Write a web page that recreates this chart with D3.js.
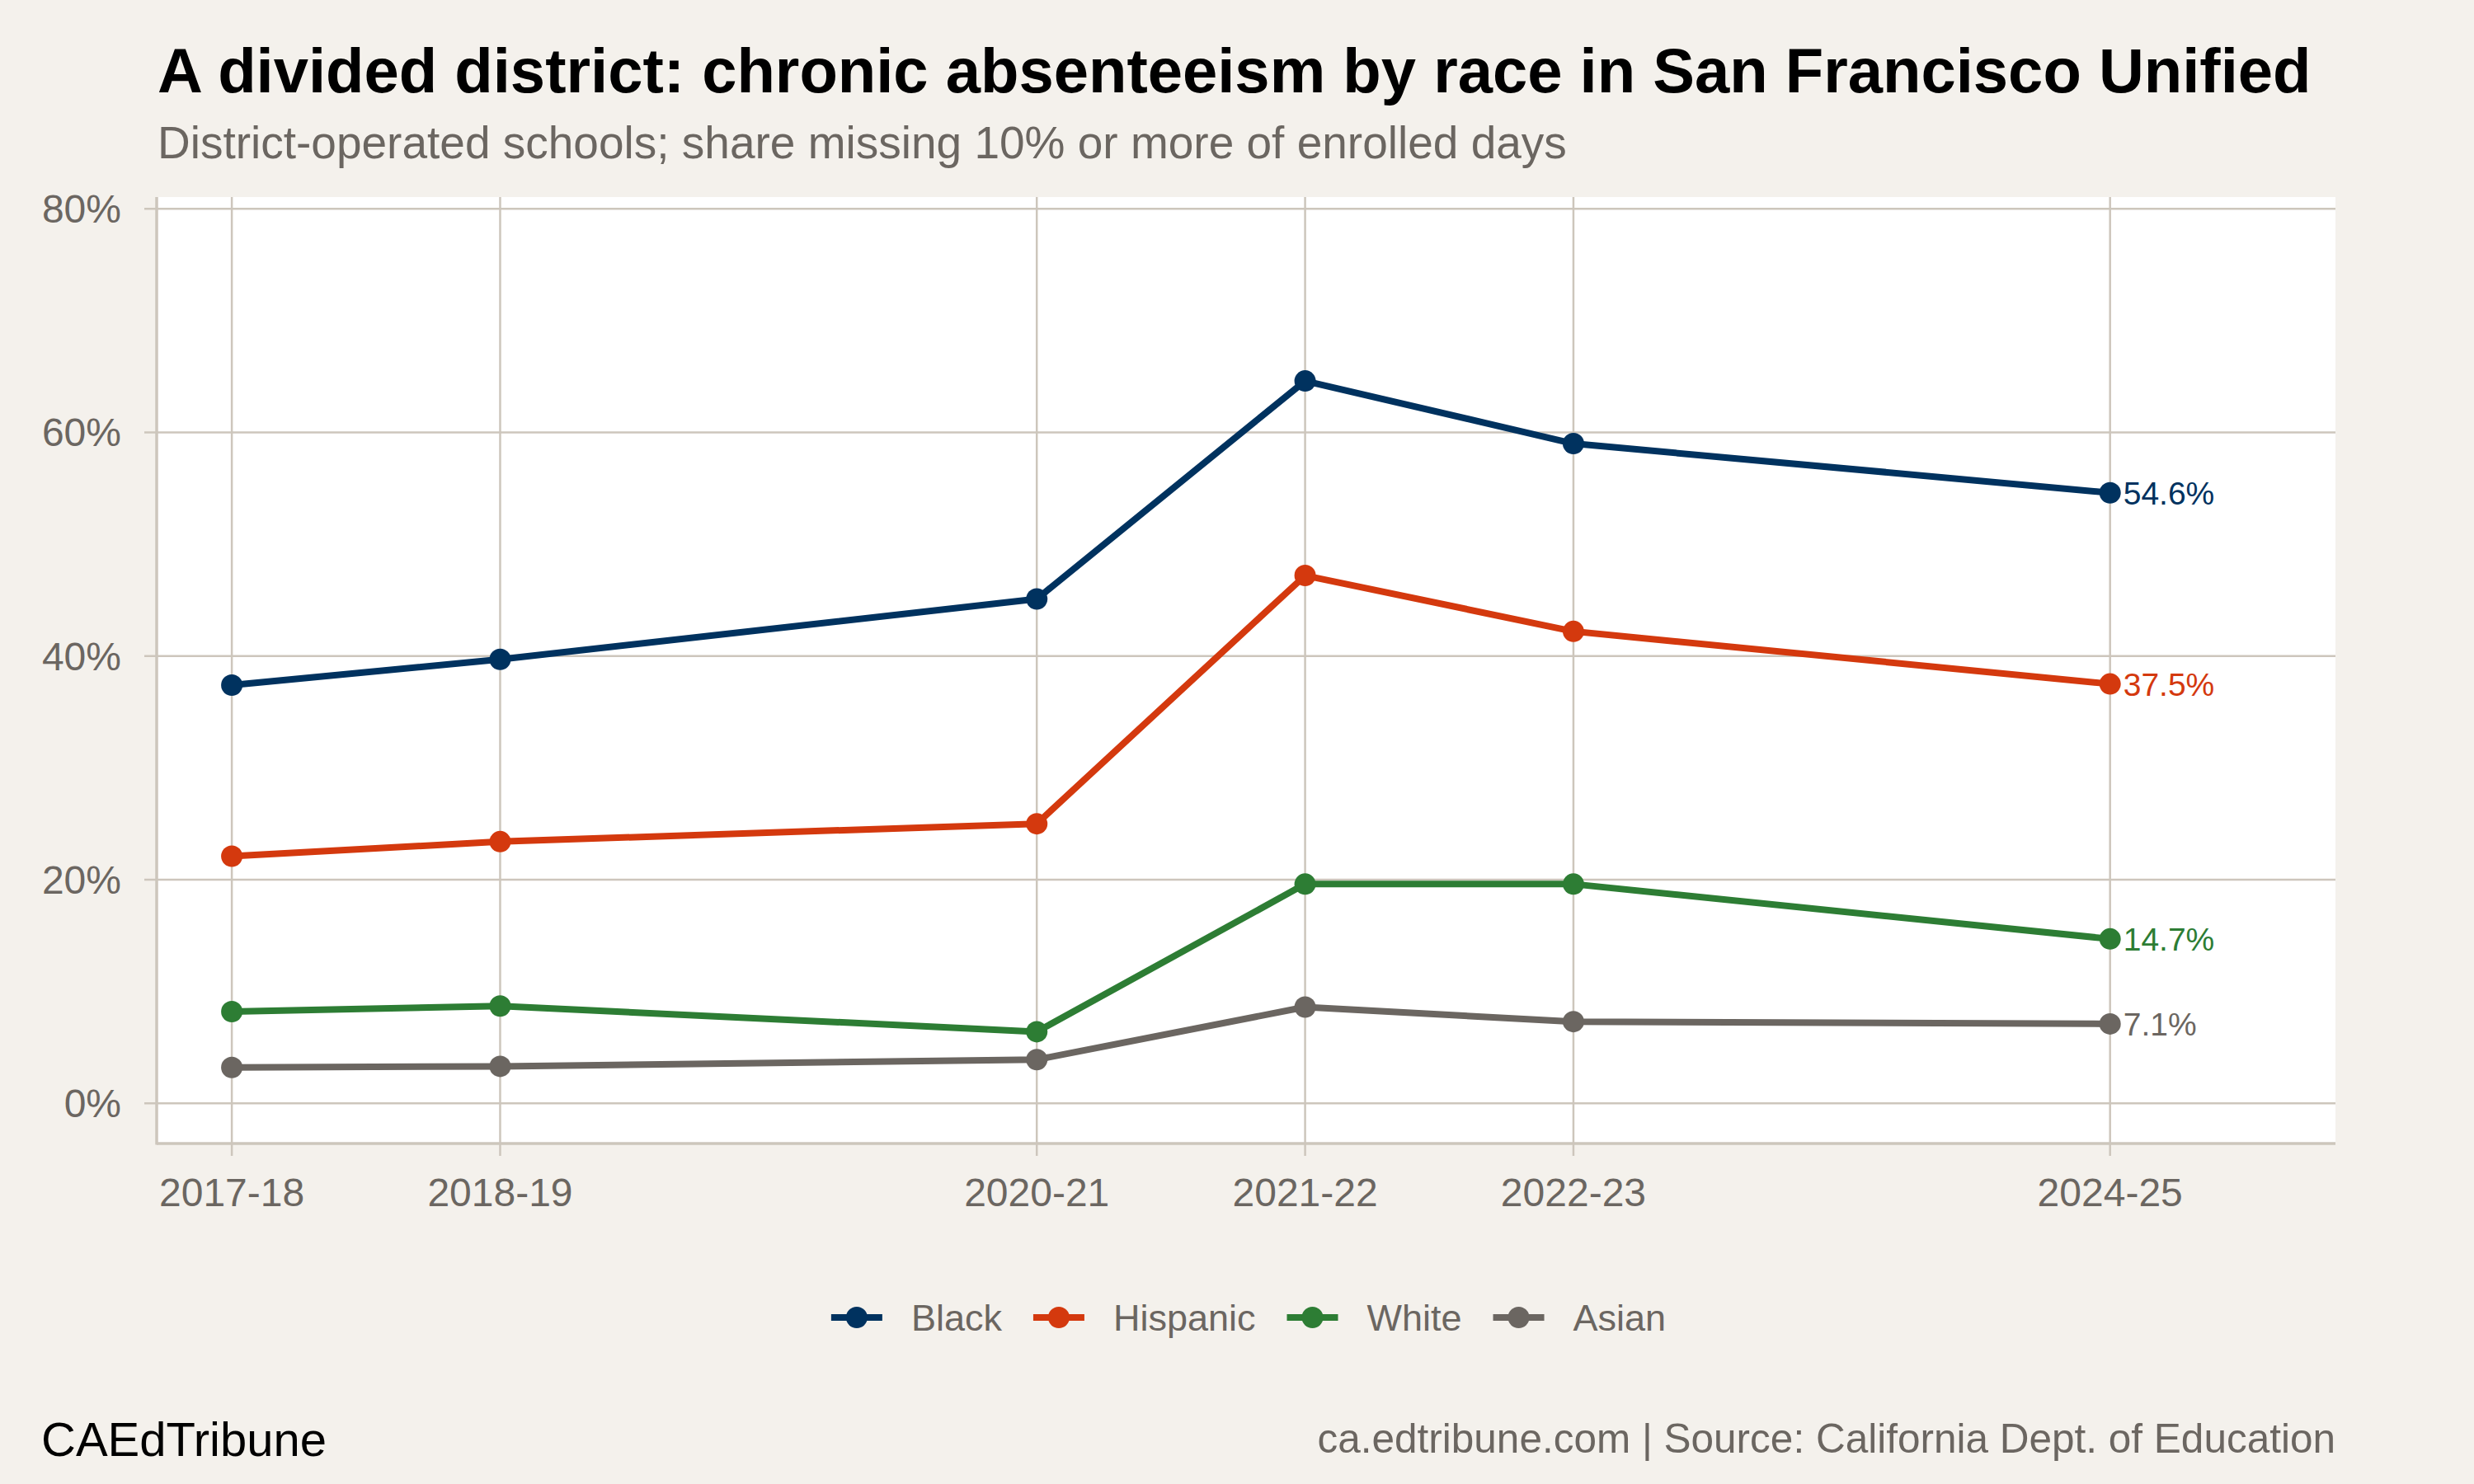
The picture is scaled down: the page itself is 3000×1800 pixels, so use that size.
<!DOCTYPE html>
<html>
<head>
<meta charset="utf-8">
<script src="https://cdn.jsdelivr.net/npm/d3@7"></script>
<style>
  body { margin: 0; background: #f4f1ec; }
  text { font-family: "Liberation Sans", Arial, Helvetica, sans-serif; }
</style>
</head>
<body>
<svg id="chart"></svg>
<script>
var w = 3000;
var h = 1800;

// school years (start year) and their labels
var years = [2017, 2018, 2020, 2021, 2022, 2024];
var yearLabels = ["2017-18", "2018-19", "2020-21", "2021-22", "2022-23", "2024-25"];

var groups = ["Black", "Hispanic", "White", "Asian"];
var black = [37.4, 39.7, 45.1, 64.6, 59.0, 54.6];
var hispanic = [22.1, 23.4, 25.0, 47.2, 42.2, 37.5];
var white = [8.2, 8.7, 6.4, 19.6, 19.6, 14.7];
var asian = [3.2, 3.3, 3.9, 8.6, 7.3, 7.1];
var yTicks = [0, 20, 40, 60, 80];

var colors = ["#00325f", "#d4390e", "#2d7d34", "#6b6661"];
var seriesValues = [black, hispanic, white, asian];

var bg = "#f4f1ec";
var gridCol = "#cdc6bc";
var grayText = "#6b6661";

var panel = { left: 190, right: 2832, top: 239, bottom: 1387 };

var xScale = d3.scaleLinear()
    .domain([2016.72, 2024.84])
    .range([panel.left, panel.right]);

var yScale = d3.scaleLinear()
    .domain([-3.6, 81.05])
    .range([panel.bottom, panel.top]);

var svg = d3.select("#chart")
    .attr("width", w)
    .attr("height", h);

svg.append("rect")
    .attr("width", w)
    .attr("height", h)
    .attr("fill", bg);

// title + subtitle
svg.append("text")
    .attr("x", 191)
    .attr("y", 112)
    .attr("font-size", "76px")
    .attr("font-weight", "bold")
    .attr("fill", "#000")
    .text("A divided district: chronic absenteeism by race in San Francisco Unified");

svg.append("text")
    .attr("x", 191)
    .attr("y", 192)
    .attr("font-size", "55px")
    .attr("fill", grayText)
    .text("District-operated schools; share missing 10% or more of enrolled days");

// panel
svg.append("rect")
    .attr("x", panel.left)
    .attr("y", panel.top)
    .attr("width", panel.right - panel.left)
    .attr("height", panel.bottom - panel.top)
    .attr("fill", "#fff");

// gridlines
svg.selectAll(".hgrid")
    .data(yTicks)
    .enter()
    .append("line")
    .attr("x1", 175)
    .attr("x2", panel.right)
    .attr("y1", function (d) { return yScale(d); })
    .attr("y2", function (d) { return yScale(d); })
    .attr("stroke", gridCol)
    .attr("stroke-width", 2.5);

svg.selectAll(".vgrid")
    .data(years)
    .enter()
    .append("line")
    .attr("x1", function (d) { return xScale(d); })
    .attr("x2", function (d) { return xScale(d); })
    .attr("y1", panel.top)
    .attr("y2", panel.bottom + 15)
    .attr("stroke", gridCol)
    .attr("stroke-width", 2.5);

// axis lines (left and bottom)
svg.append("line")
    .attr("x1", panel.left)
    .attr("x2", panel.left)
    .attr("y1", panel.top)
    .attr("y2", panel.bottom + 1.5)
    .attr("stroke", gridCol)
    .attr("stroke-width", 3.5);

svg.append("line")
    .attr("x1", panel.left)
    .attr("x2", panel.right)
    .attr("y1", panel.bottom)
    .attr("y2", panel.bottom)
    .attr("stroke", gridCol)
    .attr("stroke-width", 3.5);

// tick labels
svg.selectAll(".ylab")
    .data(yTicks)
    .enter()
    .append("text")
    .attr("x", 147)
    .attr("y", function (d) { return yScale(d) + 17; })
    .attr("text-anchor", "end")
    .attr("font-size", "48px")
    .attr("fill", grayText)
    .text(function (d) { return d + "%"; });

svg.selectAll(".xlab")
    .data(years)
    .enter()
    .append("text")
    .attr("x", function (d) { return xScale(d); })
    .attr("y", 1463)
    .attr("text-anchor", "middle")
    .attr("font-size", "48px")
    .attr("fill", grayText)
    .text(function (d, i) { return yearLabels[i]; });

// lines + points
var line = d3.line()
    .x(function (d, i) { return xScale(years[i]); })
    .y(function (d) { return yScale(d); });

seriesValues.forEach(function (vals, s) {
    svg.append("path")
        .datum(vals)
        .attr("d", line)
        .attr("fill", "none")
        .attr("stroke", colors[s])
        .attr("stroke-width", 8)
        .attr("stroke-linejoin", "round");

    svg.selectAll(".pt" + s)
        .data(vals)
        .enter()
        .append("circle")
        .attr("cx", function (d, i) { return xScale(years[i]); })
        .attr("cy", function (d) { return yScale(d); })
        .attr("r", 13)
        .attr("fill", colors[s]);

    var last = vals.length - 1;
    svg.append("text")
        .attr("x", xScale(years[last]) + 16)
        .attr("y", yScale(vals[last]) + 14)
        .attr("font-size", "39px")
        .attr("fill", colors[s])
        .text(vals[last].toFixed(1) + "%");
});

// legend
var legend = svg.append("g");
var lx = 0;
groups.forEach(function (g, i) {
    var item = legend.append("g").attr("transform", "translate(" + lx + ",0)");
    item.append("line")
        .attr("x1", 0).attr("x2", 62)
        .attr("y1", 0).attr("y2", 0)
        .attr("stroke", colors[i])
        .attr("stroke-width", 8);
    item.append("circle")
        .attr("cx", 31).attr("cy", 0).attr("r", 13)
        .attr("fill", colors[i]);
    var t = item.append("text")
        .attr("x", 97)
        .attr("y", 16)
        .attr("font-size", "45px")
        .attr("fill", grayText)
        .text(g);
    lx += 97 + t.node().getComputedTextLength() + 38;
});
var legendW = lx - 38;
legend.attr("transform", "translate(" + (1514 - legendW / 2) + ",1598)");

// footer
svg.append("text")
    .attr("x", 50)
    .attr("y", 1766)
    .attr("font-size", "58px")
    .attr("fill", "#000")
    .text("CAEdTribune");

svg.append("text")
    .attr("x", 2832)
    .attr("y", 1762)
    .attr("text-anchor", "end")
    .attr("font-size", "49.5px")
    .attr("fill", grayText)
    .text("ca.edtribune.com | Source: California Dept. of Education");
</script>
</body>
</html>
